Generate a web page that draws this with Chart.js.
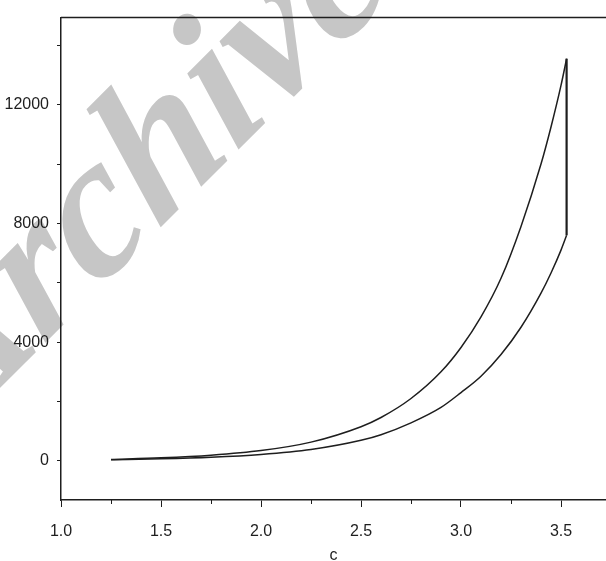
<!DOCTYPE html>
<html>
<head>
<meta charset="utf-8">
<script src="https://cdn.jsdelivr.net/npm/chart.js@4.4.0/dist/chart.umd.min.js"></script>
<style>
html, body { margin: 0; padding: 0; background: #fff; overflow: hidden; }
#wrap { width: 606px; height: 561px; }
</style>
</head>
<body>
<div id="wrap"><canvas id="myChart" width="606" height="561"></canvas></div>
<script>
// Values
var cValues     = [1.25, 1.5, 1.75, 2.0, 2.25, 2.5, 2.6, 2.75, 2.9, 3.0, 3.1, 3.2, 3.3, 3.4, 3.45, 3.5, 3.528];
var upperValues = [45, 100, 190, 345, 630, 1150, 1460, 2100, 3000, 3820, 4850, 6150, 7900, 10000, 11250, 12650, 13550];
var lowerValues = [36, 66, 118, 212, 380, 690, 880, 1280, 1800, 2300, 2850, 3580, 4500, 5650, 6330, 7100, 7600];

// Axis ticks
var xTickValues = [1.0, 1.5, 2.0, 2.5, 3.0, 3.5];
var xMinorTicks = [1.25, 1.75, 2.25, 2.75, 3.25, 3.75];
var yTickValues = [0, 2000, 4000, 6000, 8000, 10000, 12000, 14000];
var yLabelStep = 4000;

var ink = "#1e1e1e";
var tickFont = { family: "'Liberation Sans', Arial, sans-serif", size: 16 };

function toPoints(xs, ys) {
    return xs.map((x, i) => ({ x: x, y: ys[i] }));
}

var last = cValues.length - 1;
var closingLine = [
    { x: cValues[last], y: lowerValues[last] },
    { x: cValues[last], y: upperValues[last] }
];

// Grey "Archive" stamp behind the plot
const watermark = {
    id: "watermark",
    beforeDraw(chart) {
        const ctx = chart.ctx;
        ctx.save();
        ctx.font = "bold italic 196px 'Liberation Serif', 'Times New Roman', serif";
        ctx.fillStyle = "#c6c6c6";
        ctx.translate(158, 230);
        ctx.rotate(-45 * Math.PI / 180);
        ctx.transform(1, 0, -0.12, 1, 0, 0);
        const offset = ctx.measureText("Arc").width;
        ctx.fillText("Archive", -offset, 0);
        ctx.restore();
    }
};

// Top frame line and short minor ticks on the x axis
const frameExtras = {
    id: "frameExtras",
    afterDraw(chart) {
        const ctx = chart.ctx;
        const area = chart.chartArea;
        const xs = chart.scales.x;
        ctx.save();
        ctx.strokeStyle = ink;
        ctx.lineWidth = 1.5;
        ctx.beginPath();
        ctx.moveTo(area.left, area.top);
        ctx.lineTo(area.right, area.top);
        ctx.stroke();
        ctx.lineWidth = 1;
        xMinorTicks.forEach(v => {
            const px = Math.round(xs.getPixelForValue(v)) + 0.5;
            if (px > area.right) return;
            ctx.beginPath();
            ctx.moveTo(px, area.bottom);
            ctx.lineTo(px, area.bottom + 4);
            ctx.stroke();
        });
        ctx.restore();
    }
};

const lineStyle = {
    borderColor: ink,
    borderWidth: 1.5,
    pointRadius: 0,
    fill: false,
    cubicInterpolationMode: "monotone"
};

new Chart(document.getElementById("myChart"), {
    type: "line",
    data: {
        datasets: [
            Object.assign({ label: "upper", data: toPoints(cValues, upperValues) }, lineStyle),
            Object.assign({ label: "lower", data: toPoints(cValues, lowerValues) }, lineStyle),
            Object.assign({ label: "closing", data: closingLine }, lineStyle, { borderWidth: 2.2 })
        ]
    },
    options: {
        responsive: false,
        animation: false,
        layout: { padding: { top: 7, left: 0, right: 0, bottom: 0 } },
        plugins: {
            legend: { display: false },
            tooltip: { enabled: false }
        },
        scales: {
            x: {
                type: "linear",
                position: "bottom",
                min: 1.0,
                max: 3.725,
                afterBuildTicks: s => { s.ticks = xTickValues.map(v => ({ value: v })); },
                ticks: {
                    color: ink,
                    font: tickFont,
                    padding: 15,
                    maxRotation: 0,
                    autoSkip: false,
                    callback: v => Number(v).toFixed(1)
                },
                grid: { display: true, drawOnChartArea: false, drawTicks: true, tickLength: 7, tickColor: ink, tickWidth: 1 },
                border: { display: true, color: ink, width: 1.5 },
                title: { display: true, text: "c", color: ink, font: tickFont, padding: { top: 0, bottom: -4 } },
                afterFit: s => { s.height = 61; }
            },
            y: {
                type: "linear",
                min: -1320,
                max: 14935,
                afterBuildTicks: s => { s.ticks = yTickValues.map(v => ({ value: v })); },
                ticks: {
                    color: ink,
                    font: tickFont,
                    padding: 8,
                    autoSkip: false,
                    callback: v => (v % yLabelStep === 0 ? String(v) : "")
                },
                grid: { display: true, drawOnChartArea: false, drawTicks: true, tickLength: 4, tickColor: ink, tickWidth: 1 },
                border: { display: true, color: ink, width: 1.5 },
                afterFit: s => { s.width = 61; }
            }
        }
    },
    plugins: [watermark, frameExtras]
});
</script>
</body>
</html>
